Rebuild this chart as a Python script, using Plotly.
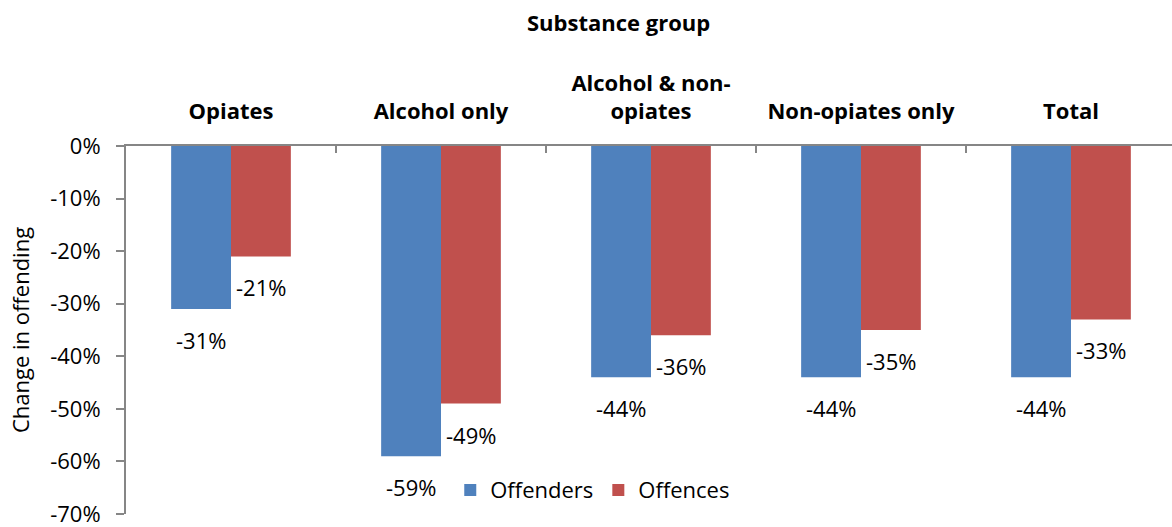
import plotly.graph_objects as go

# Substance groups and percentage change in offending
categories = ["Opiates", "Alcohol only", "Alcohol & non-<br>opiates", "Non-opiates only", "Total"]
offenders = [-31, -59, -44, -44, -44]
offences = [-21, -49, -36, -35, -33]
y_ticks = [0, -10, -20, -30, -40, -50, -60, -70]

FONT = "Open Sans"
SIZE = 22
BLUE = "#4F81BD"
RED = "#C0504D"
AXIS = "#868686"

fig = go.Figure()
fig.add_trace(go.Bar(name="Offenders", x=categories, y=offenders,
                     marker=dict(color=BLUE, line=dict(width=0))))
fig.add_trace(go.Bar(name="Offences", x=categories, y=offences,
                     marker=dict(color=RED, line=dict(width=0))))

# value labels under each bar end
for series, shift in ((offenders, -30), (offences, 30)):
    for cat, v in zip(categories, series):
        fig.add_annotation(x=cat, y=v, xref="x", yref="y", text=f"{v}%",
                           showarrow=False, xshift=shift, yshift=-31,
                           font=dict(family=FONT, size=SIZE, color="#000000"))

fig.add_annotation(x=(618 - 126) / 1046, y=1, xref="paper", yref="paper",
                   yshift=124, text="<b>Substance group</b>", showarrow=False,
                   yanchor="middle",
                   font=dict(family=FONT, size=SIZE, color="#000000"))

fig.update_layout(
    width=1172, height=527,
    margin=dict(l=126, r=0, t=146, b=13),
    paper_bgcolor="white", plot_bgcolor="white",
    barmode="group", bargap=0.43, bargroupgap=0,
    font=dict(family=FONT, size=SIZE, color="#000000"),
    showlegend=True,
    legend=dict(orientation="h", x=0.31, y=0.065, xanchor="left", yanchor="middle",
                font=dict(family=FONT, size=SIZE), bgcolor="rgba(0,0,0,0)",
                itemwidth=30),
    xaxis=dict(side="top", type="category", range=[-0.5, 4.481],
               showline=True, linecolor=AXIS, linewidth=2,
               ticks="inside", tickson="boundaries", ticklen=7, tickcolor=AXIS,
               tickwidth=1.5, tickfont=dict(family=FONT, size=SIZE, weight="bold"),
               ticklabelstandoff=16,
               showgrid=False, zeroline=False),
    yaxis=dict(range=[-70, 0], tickvals=y_ticks, ticktext=[f"{t}%" for t in y_ticks],
               showline=True, linecolor=AXIS, linewidth=2,
               ticks="outside", ticklen=8, tickcolor=AXIS, tickwidth=1.5,
               ticklabelstandoff=11, ticklabeloverflow="allow",
               tickfont=dict(family=FONT, size=SIZE), showgrid=False, zeroline=False,
               title=dict(text="Change in offending", font=dict(family=FONT, size=SIZE),
                          standoff=14)),
)

fig.write_html("out.html")
